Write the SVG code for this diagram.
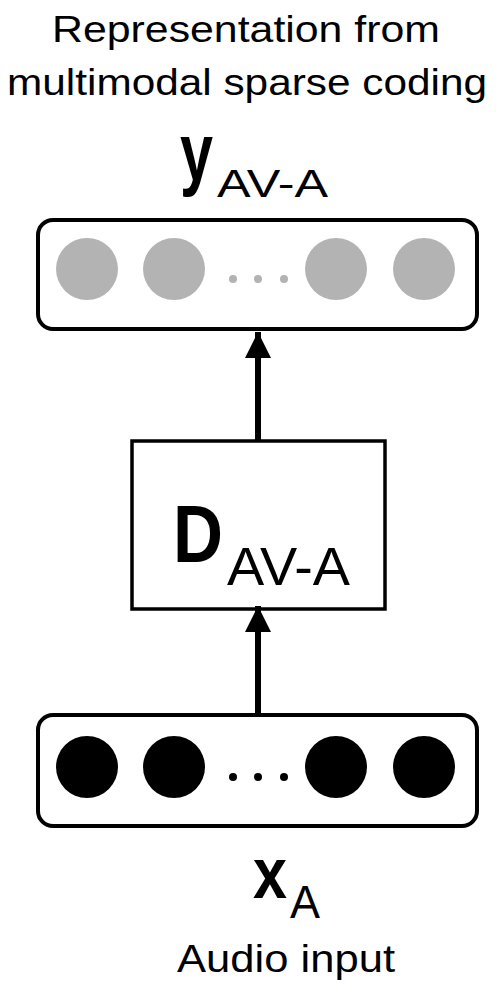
<svg xmlns="http://www.w3.org/2000/svg" width="496" height="985" viewBox="0 0 496 985">
<style>
text{font-family:"Liberation Sans","Open Sans",sans-serif;fill:#000}
.b{font-weight:bold}
.layer{fill:#fff;stroke:#000;stroke-width:4}
.gray{fill:#b3b3b3}
.blk{fill:#000}
.conn{stroke:#000;stroke-width:6;fill:none}
</style>
<defs>
<marker id="ah" markerUnits="userSpaceOnUse" markerWidth="28" markerHeight="28" refX="26" refY="13" orient="auto" viewBox="0 0 28 26">
<path d="M0,0 L26,13 L0,26 Z" fill="#000"/>
</marker>
</defs>
<rect width="496" height="985" fill="#fff"/>
<g id="title">
<text x="246" y="42" font-size="37" text-anchor="middle" textLength="388" lengthAdjust="spacingAndGlyphs">Representation from</text>
<text x="247" y="95" font-size="37" text-anchor="middle" textLength="480" lengthAdjust="spacingAndGlyphs">multimodal sparse coding</text>
</g>
<g id="y-label">
<text x="180" y="180" font-size="81" class="b" textLength="33" lengthAdjust="spacingAndGlyphs">y</text>
<text x="217" y="197" font-size="38" textLength="111" lengthAdjust="spacingAndGlyphs">AV-A</text>
</g>
<g id="y-layer">
<rect class="layer" x="38" y="220" width="439" height="109" rx="15"/>
<circle class="gray" cx="87" cy="269" r="31"/>
<circle class="gray" cx="174" cy="269" r="31"/>
<circle class="gray" cx="233" cy="279" r="4"/>
<circle class="gray" cx="258" cy="279" r="4"/>
<circle class="gray" cx="284" cy="279" r="4"/>
<circle class="gray" cx="336" cy="269" r="31"/>
<circle class="gray" cx="424" cy="269" r="31"/>
</g>
<g id="D-box">
<rect x="132" y="441" width="253" height="168" fill="#fff" stroke="#000" stroke-width="3.5"/>
<text x="173" y="562" font-size="81" class="b" textLength="50" lengthAdjust="spacingAndGlyphs">D</text>
<text x="227" y="585" font-size="54" textLength="123" lengthAdjust="spacingAndGlyphs">AV-A</text>
</g>
<g id="x-layer">
<rect class="layer" x="38" y="715" width="439" height="111" rx="15"/>
<circle class="blk" cx="87" cy="767" r="31"/>
<circle class="blk" cx="174" cy="767" r="31"/>
<circle class="blk" cx="233" cy="777" r="4"/>
<circle class="blk" cx="258" cy="777" r="4"/>
<circle class="blk" cx="284" cy="777" r="4"/>
<circle class="blk" cx="336" cy="767" r="31"/>
<circle class="blk" cx="424" cy="767" r="31"/>
</g>
<g id="x-label">
<text x="253" y="898" font-size="73" class="b" textLength="34" lengthAdjust="spacingAndGlyphs">x</text>
<text x="290" y="918" font-size="46" textLength="30" lengthAdjust="spacingAndGlyphs">A</text>
<text x="286" y="972" font-size="39" text-anchor="middle" textLength="218" lengthAdjust="spacingAndGlyphs">Audio input</text>
</g>
<g id="connectors">
<line class="conn" x1="258" y1="713" x2="258" y2="606" marker-end="url(#ah)"/>
<line class="conn" x1="258" y1="440" x2="258" y2="332" marker-end="url(#ah)"/>
</g>
</svg>
